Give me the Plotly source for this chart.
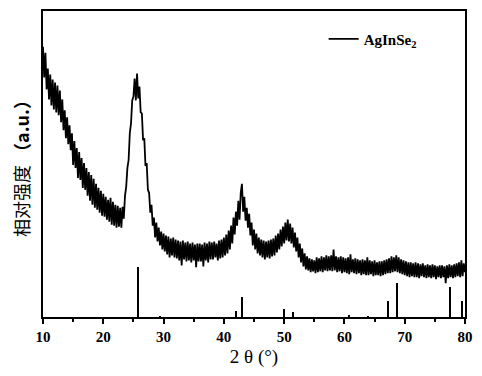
import numpy as np
import plotly.graph_objects as go

# ---- measured XRD pattern (2theta from 10 to 80 in 0.2 deg steps) ----
two_theta_start = 10.0
two_theta_step = 0.2
intensity = [
    # 10.0 - 11.8
    272, 241, 266, 229, 250, 219, 244, 213, 239, 209,
    # 12.0 - 13.8
    236, 206, 233, 203, 228, 196, 219, 188, 208, 180,
    # 14.0 - 15.8
    201, 174, 193, 168, 185, 153, 177, 150, 170, 140,
    # 16.0 - 17.8
    166, 138, 160, 130, 155, 128, 150, 122, 146, 117,
    # 18.0 - 19.8
    143, 113, 139, 110, 134, 108, 130, 105, 127, 102,
    # 20.0 - 21.8
    124, 101, 121, 98, 118, 96, 120, 93, 116, 92,
    # 22.0 - 23.8
    113, 90, 112, 91, 110, 90, 111, 99, 122, 131,
    # 24.0 - 25.8
    150, 158, 185, 195, 218, 222, 240, 218, 245, 220,
    # 26.0 - 27.8
    232, 206, 205, 178, 180, 152, 155, 128, 125, 105,
    # 28.0 - 29.8
    113, 92, 100, 80, 95, 76, 90, 72, 86, 68,
    # 30.0 - 31.8
    84, 66, 82, 63, 81, 60, 79, 62, 80, 60,
    # 32.0 - 33.8
    78, 59, 77, 57, 76, 52, 77, 58, 75, 56,
    # 34.0 - 35.8
    76, 57, 74, 55, 75, 57, 73, 50, 74, 56,
    # 36.0 - 37.8
    74, 56, 73, 51, 75, 57, 74, 55, 76, 58,
    # 38.0 - 39.8
    75, 58, 76, 60, 74, 57, 77, 59, 78, 60,
    # 40.0 - 41.8
    80, 62, 83, 64, 87, 68, 92, 74, 100, 83,
    # 42.0 - 43.8
    106, 92, 117, 98, 125, 134, 106, 121, 97, 110,
    # 44.0 - 45.8
    90, 104, 82, 95, 72, 88, 68, 84, 64, 80,
    # 46.0 - 47.8
    62, 78, 60, 77, 58, 76, 60, 77, 59, 78,
    # 48.0 - 49.8
    61, 79, 62, 82, 65, 84, 68, 88, 71, 91,
    # 50.0 - 51.8
    74, 95, 77, 98, 76, 94, 74, 90, 70, 85,
    # 52.0 - 53.8
    66, 80, 60, 74, 55, 69, 51, 64, 48, 61,
    # 54.0 - 55.8
    47, 59, 45, 58, 46, 57, 44, 60, 45, 59,
    # 56.0 - 57.8
    46, 61, 45, 60, 47, 62, 46, 61, 47, 62,
    # 58.0 - 59.8
    46, 68, 47, 61, 45, 60, 46, 61, 44, 60,
    # 60.0 - 61.8
    45, 59, 44, 60, 43, 63, 45, 58, 44, 59,
    # 62.0 - 63.8
    43, 58, 44, 57, 42, 58, 43, 57, 42, 60,
    # 64.0 - 65.8
    42, 57, 43, 56, 41, 57, 42, 55, 42, 56,
    # 66.0 - 67.8
    41, 56, 42, 57, 43, 58, 44, 59, 44, 61,
    # 68.0 - 69.8
    45, 60, 46, 62, 45, 60, 44, 58, 43, 57,
    # 70.0 - 71.8
    42, 56, 41, 55, 40, 55, 41, 54, 40, 55,
    # 72.0 - 73.8
    40, 54, 39, 53, 41, 54, 40, 52, 39, 53,
    # 74.0 - 75.8
    40, 52, 39, 53, 40, 52, 38, 51, 40, 52,
    # 76.0 - 77.8
    39, 52, 40, 51, 34, 52, 39, 53, 40, 52,
    # 78.0 - 80.0
    39, 53, 40, 54, 41, 55, 40, 57, 41, 54, 45,
]
two_theta = two_theta_start + two_theta_step * np.arange(len(intensity))

# ---- reference (standard card) lines for AgInSe2 ----
ref_positions = [25.8, 29.5, 42.0, 43.1, 50.0, 51.5, 60.8, 64.0, 67.3, 68.8, 77.5, 79.5]
ref_heights = [50, 1, 6, 20, 8, 5, 2, 1, 16, 34, 30, 16]

x_ticks = [10, 20, 30, 40, 50, 60, 70, 80]

fig = go.Figure()
fig.add_trace(go.Scatter(
    x=two_theta, y=intensity, mode="lines",
    line=dict(color="black", width=1.8),
    name="AgInSe<sub>2</sub>", showlegend=True,
))
fig.add_trace(go.Bar(
    x=ref_positions, y=ref_heights, width=0.3,
    marker=dict(color="black", line=dict(width=0)),
    showlegend=False,
))

serif = "Liberation Serif"
fig.update_layout(
    width=474, height=368,
    margin=dict(l=35, r=17, t=1, b=59),
    paper_bgcolor="white", plot_bgcolor="white",
    bargap=0,
    legend=dict(
        x=0.665, y=0.962, xanchor="left", yanchor="top",
        bgcolor="rgba(0,0,0,0)",
        font=dict(family=serif, size=15, color="black", weight="bold"),
    ),
    xaxis=dict(
        range=[10, 80], tickvals=x_ticks, ticktext=[str(v) for v in x_ticks],
        ticks="outside", ticklen=5, tickwidth=2, tickcolor="black",
        showline=True, linewidth=2, linecolor="black", mirror=True,
        showgrid=False, zeroline=False,
        tickfont=dict(family=serif, size=15, color="black", weight="bold"),
        minor=dict(tickvals=[15, 25, 35, 45, 55, 65, 75], ticks="outside",
                   ticklen=3, tickwidth=2, tickcolor="black", showgrid=False),
        title=dict(text="2 θ (°)", font=dict(family=serif, size=19, color="black"),
                   standoff=6),
    ),
    yaxis=dict(
        range=[0, 308], showticklabels=False, ticks="",
        showline=True, linewidth=2, linecolor="black", mirror=True,
        showgrid=False, zeroline=False,
        title=dict(text="相对强度 <b>（a.u.）</b>",
                   font=dict(family="Noto Sans CJK SC", size=18, color="black"),
                   standoff=10),
    ),
)

fig.write_html("out.html")
